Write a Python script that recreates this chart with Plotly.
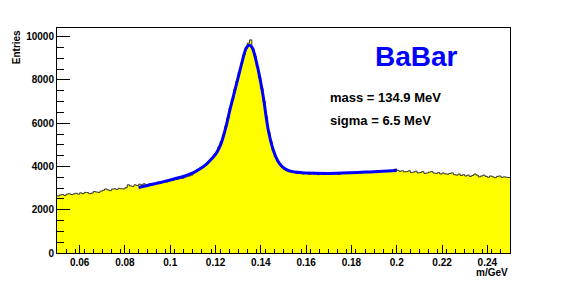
import plotly.graph_objects as go

# Histogram: 200 bins from 0.05 to 0.25 (bin width 0.001)
bin_lo = 0.05
bin_w = 0.001
counts = [
    2640, 2680, 2700, 2660, 2720, 2740, 2700, 2730, 2760, 2720,
    2780, 2740, 2800, 2790, 2740, 2770, 2840, 2820, 2800, 2860,
    2900, 2960, 2920, 2880, 2950, 2970, 2940, 2990, 2970, 2960,
    3020, 3150, 3100, 3080, 3150, 3120, 3180, 3150, 3200, 3150,
    3180, 3210, 3160, 3230, 3280, 3250, 3300, 3320, 3280, 3340,
    3350, 3380, 3400, 3420, 3470, 3450, 3500, 3530, 3560, 3600,
    3700, 3760, 3840, 3900, 3980, 4070, 4150, 4280, 4400, 4520,
    4650, 4900, 5150, 5450, 5850, 6250, 6700, 7100, 7550, 7950,
    8350, 8750, 9150, 9450, 9700, 9850, 9450, 9100, 8600, 8100,
    7600, 7000, 6300, 5600, 5150, 4750, 4450, 4250, 4100, 3980,
    3880, 3800, 3760, 3740, 3720, 3700, 3690, 3720, 3660, 3700,
    3680, 3640, 3700, 3660, 3650, 3620, 3680, 3640, 3630, 3670,
    3650, 3700, 3660, 3680, 3640, 3700, 3690, 3710, 3680, 3720,
    3700, 3720, 3690, 3740, 3710, 3750, 3720, 3760, 3730, 3770,
    3750, 3780, 3760, 3790, 3800, 3780, 3810, 3790, 3820, 3880,
    3820, 3780, 3800, 3750, 3760, 3800, 3720, 3740, 3780, 3700,
    3720, 3760, 3680, 3700, 3740, 3760, 3700, 3680, 3720, 3650,
    3700, 3660, 3640, 3680, 3700, 3620, 3600, 3650, 3580, 3620,
    3560, 3600, 3540, 3580, 3650, 3600, 3520, 3560, 3600, 3540,
    3500, 3560, 3520, 3480, 3540, 3560, 3500, 3520, 3500, 3490,
]

# Fit curve points
fit_x = [0.086, 0.09, 0.094, 0.098, 0.102, 0.106, 0.11, 0.113, 0.116, 0.1185,
         0.1205, 0.1225, 0.1245, 0.1265, 0.1285, 0.1308, 0.133, 0.1339, 0.1349,
         0.1359, 0.1368, 0.1389, 0.1411, 0.1433, 0.1455, 0.1475, 0.1495, 0.152,
         0.156, 0.16, 0.17, 0.18, 0.19, 0.2]
fit_y = [3030, 3120, 3220, 3320, 3430, 3550, 3700, 3880, 4110, 4380,
         4640, 5080, 5800, 6680, 7500, 8450, 9330, 9530, 9600,
         9530, 9330, 8430, 7200, 5670, 4750, 4250, 3980, 3820,
         3730, 3700, 3680, 3710, 3760, 3810]

x_ticks = [0.06, 0.08, 0.1, 0.12, 0.14, 0.16, 0.18, 0.2, 0.22, 0.24]
x_tick_text = ["0.06", "0.08", "0.1", "0.12", "0.14", "0.16", "0.18", "0.2", "0.22", "0.24"]
y_ticks = [0, 2000, 4000, 6000, 8000, 10000]
y_tick_text = ["0", "2000", "4000", "6000", "8000", "10000"]

edges = [bin_lo + i * bin_w for i in range(len(counts) + 1)]
step_y = counts + [counts[-1]]

font_b = "Liberation Sans, Arial, Helvetica, sans-serif"

fig = go.Figure()
fig.add_trace(go.Scatter(
    x=edges, y=step_y, mode="lines", line_shape="hv",
    line=dict(color="#333333", width=1), fill="tozeroy", fillcolor="#ffff00",
    hoverinfo="skip", showlegend=False))
fig.add_trace(go.Scatter(
    x=fit_x, y=fit_y, mode="lines", line_shape="spline",
    line=dict(color="#0000ff", width=3, smoothing=1.0), showlegend=False))

fig.update_layout(
    width=567, height=281,
    margin=dict(l=49, r=65, t=20, b=36),
    paper_bgcolor="white", plot_bgcolor="white",
    font=dict(family=font_b, size=10, color="black"),
    xaxis=dict(range=[0.05, 0.25], tickvals=x_ticks, ticktext=x_tick_text,
               ticks="inside", ticklen=8, tickwidth=1, tickcolor="black",
               showline=True, linecolor="black", linewidth=1, mirror=True,
               showgrid=False, zeroline=False,
               tickfont=dict(family=font_b, size=10, color="black", weight="bold"),
               minor=dict(ticks="inside", ticklen=4, dtick=0.004, tick0=0.05,
                          tickcolor="black", showgrid=False)),
    yaxis=dict(range=[0, 10400], tickvals=y_ticks, ticktext=y_tick_text,
               ticks="inside", ticklen=13, tickwidth=1, tickcolor="black",
               showline=True, linecolor="black", linewidth=1, mirror=True,
               showgrid=False, zeroline=False,
               tickfont=dict(family=font_b, size=10, color="black", weight="bold"),
               minor=dict(ticks="inside", ticklen=7, dtick=500,
                          tickcolor="black", showgrid=False)),
)
fig.add_annotation(text="Entries", xref="paper", yref="paper", x=-0.09, y=1.0,
                   showarrow=False, textangle=-90, xanchor="center", yanchor="top",
                   font=dict(family=font_b, size=10, weight="bold"))
fig.add_annotation(text="m/GeV", xref="paper", yref="paper", x=1.0, y=-0.055,
                   showarrow=False, xanchor="right", yanchor="top",
                   font=dict(family=font_b, size=10, weight="bold"))
fig.add_annotation(text="BaBar", xref="x", yref="y", x=0.2087, y=9100,
                   showarrow=False, xanchor="center", yanchor="middle",
                   font=dict(family=font_b, size=28, color="#0000ff", weight="bold"))
fig.add_annotation(text="mass = 134.9 MeV", xref="x", yref="y", x=0.1698, y=7210,
                   showarrow=False, xanchor="left", yanchor="middle",
                   font=dict(family=font_b, size=13, weight="bold"))
fig.add_annotation(text="sigma = 6.5 MeV", xref="x", yref="y", x=0.1698, y=6110,
                   showarrow=False, xanchor="left", yanchor="middle",
                   font=dict(family=font_b, size=13, weight="bold"))

fig.write_html("out.html")
